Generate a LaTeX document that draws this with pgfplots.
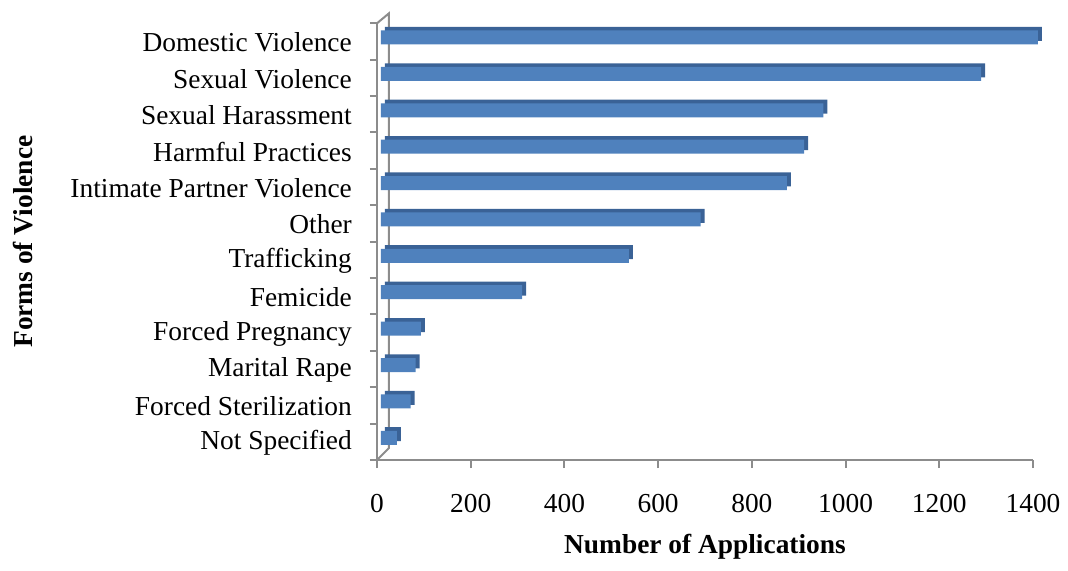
\documentclass[border=0pt]{standalone}
\usepackage{pgfplots}
\pgfplotsset{compat=1.18}
\usepackage{pgfplotstable}
\usepackage{fontspec}
\setmainfont{Liberation Serif}
\definecolor{barfront}{HTML}{4F81BD}
\definecolor{bartop}{HTML}{3A6296}
\definecolor{axgray}{HTML}{8C8C8C}
\pgfplotstableread{
idx v
0 34
1 63
2 74
3 85
4 301
5 529
6 682
7 866
8 903
9 944
10 1281
11 1402
}\data
\begin{document}
\begin{tikzpicture}
\begin{axis}[name=ax, scale only axis, width=656bp, height=436.7bp,
  xmin=0, xmax=1400, ymin=-0.5, ymax=11.5,
  axis x line*=bottom, axis y line*=left,
  axis line style={draw=axgray, line width=2bp},
  xtick={0,200,...,1400}, ytick={0,...,11},
  yticklabels={Not Specified, Forced Sterilization, Marital Rape, Forced Pregnancy, Femicide, Trafficking, Other, Intimate Partner Violence, Harmful Practices, Sexual Harassment, Sexual Violence, Domestic Violence},
  minor ytick={-0.5,0.5,...,11.5},
  tick align=outside, major tick length=8bp, minor tick length=7bp,
  major x tick style={draw=axgray, line width=2bp},
  major y tick style={draw=none},
  minor y tick style={draw=axgray, line width=2bp},
  xticklabel style={inner sep=0pt, yshift=-26bp},
  yticklabel style={inner sep=0pt, anchor=east, xshift=-17bp, yshift=-1bp},
  /pgf/number format/1000 sep={}, /pgf/number format/assume math mode=true,
  tick label style={font=\fontsize{27.5}{30}\selectfont},
  label style={font=\bfseries\fontsize{27.5}{30}\selectfont},
  xlabel={Number of Applications}, ylabel={Forms of Violence},
  xlabel style={at={(axis description cs:0.5,-0.199)}, anchor=center},
  ylabel style={at={(axis description cs:-0.540,0.5)}, anchor=center},
  clip=false,
  xbar, bar width=14bp,
]
\draw[axgray, line width=2bp] (axis cs:0,11.5) -- ++(12bp,10bp) -- ([shift={(12bp,12bp)}]axis cs:0,-0.5) -- (axis cs:0,-0.5);
\addplot[fill=bartop, draw=none, bar shift=7.6bp, xshift=8bp] table[x=v, y=idx] {\data};
\addplot[fill=barfront, draw=none, bar shift=4bp, xshift=4bp] table[x=v, y=idx] {\data};
\end{axis}
\path ([shift={(-377bp,-111bp)}]ax.south west) rectangle ++(1068bp,571bp);
\end{tikzpicture}
\end{document}
